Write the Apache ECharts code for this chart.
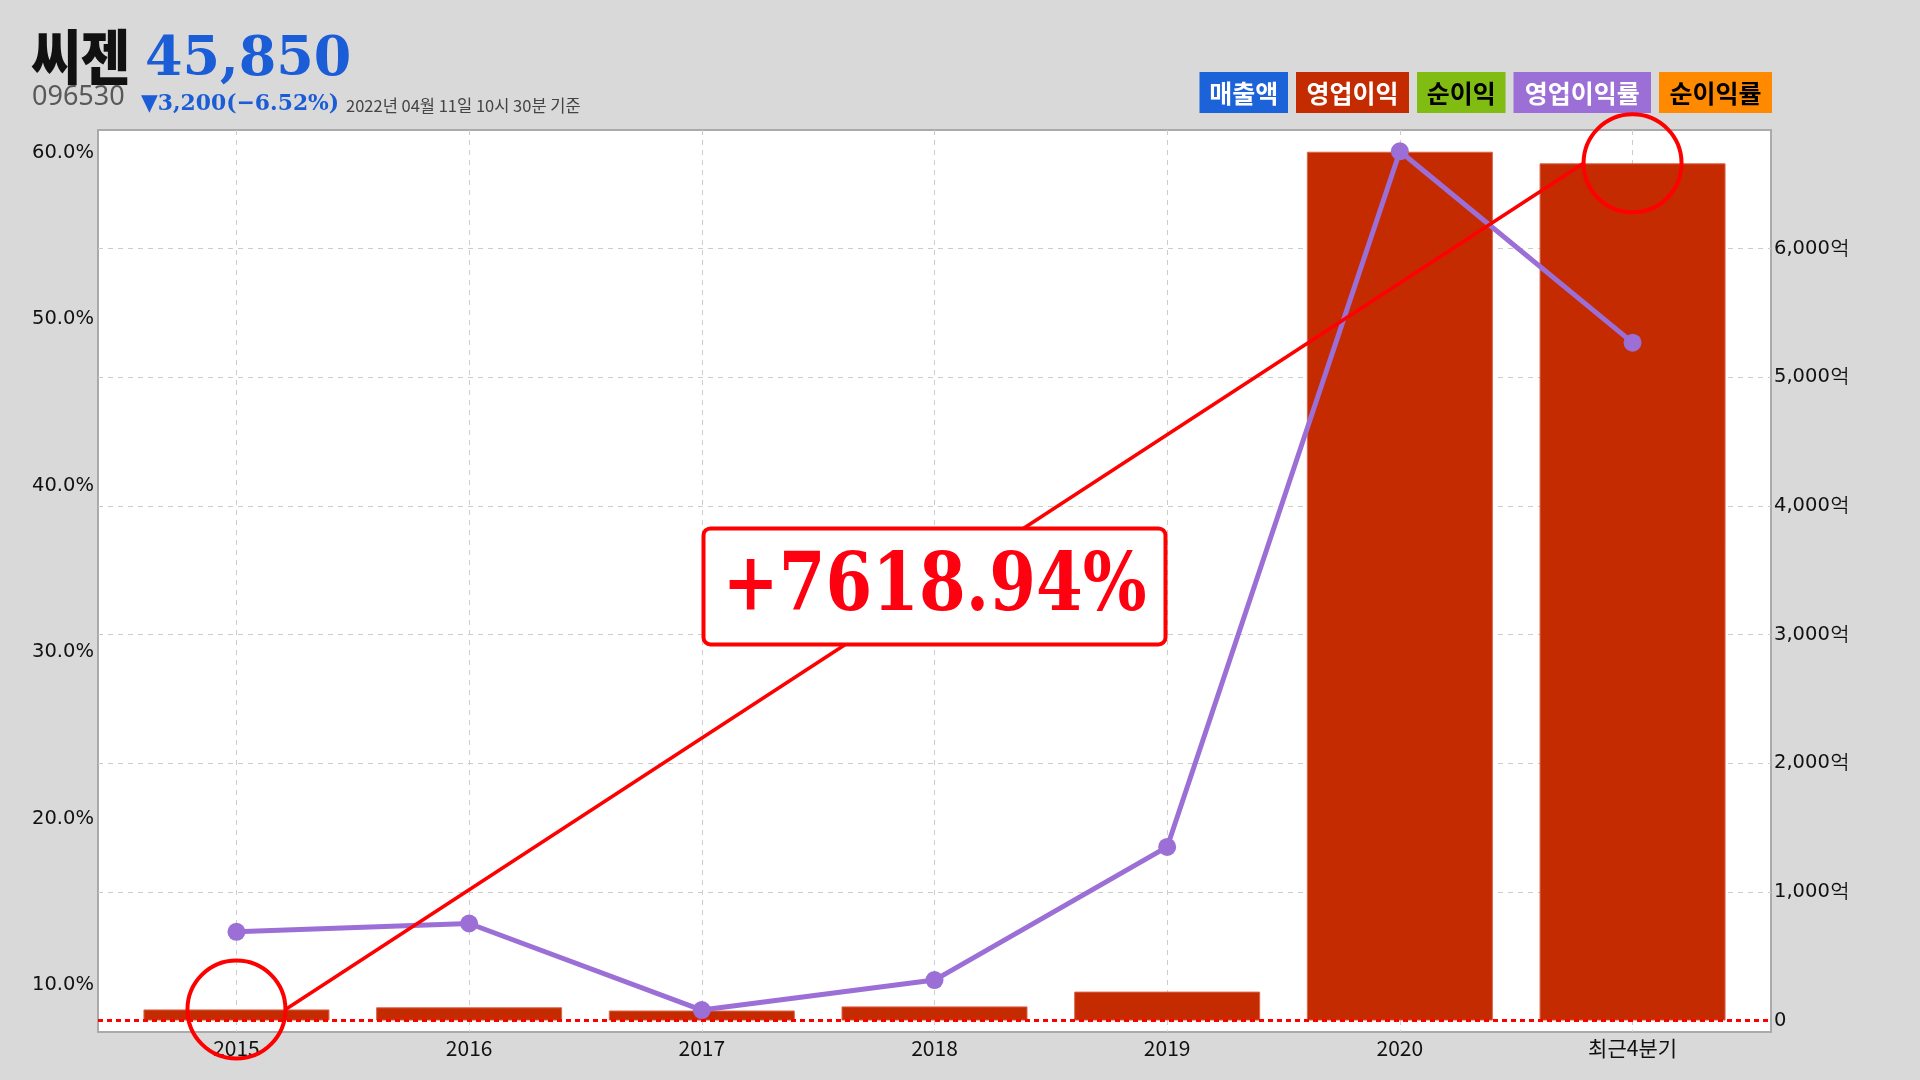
<!DOCTYPE html>
<html><head><meta charset="utf-8">
<script src="https://cdn.jsdelivr.net/npm/echarts@6/dist/echarts.min.js"></script>
<style>html,body{margin:0;padding:0;background:#d9d9d9}#c{width:1920px;height:1080px}</style>
</head><body><div id="c"></div>
<script>
// ---- data ----
const categories = ['2015', '2016', '2017', '2018', '2019', '2020', '최근4분기'];
const opProfit = [86.3, 103, 78, 110, 225, 6753, 6663];      // 영업이익 (억)
const opMargin = [13.2, 13.7, 8.5, 10.3, 18.3, 60.1, 48.6];   // 영업이익률 (%)
const leftTicks = [10, 20, 30, 40, 50, 60];
const rightTicks = [0, 1000, 2000, 3000, 4000, 5000, 6000];
const legendNames = ['매출액', '영업이익', '순이익', '영업이익률', '순이익률'];
const legendColors = ['#1c62d8', '#c42b00', '#80bc12', '#9b6fd6', '#ff8a00'];
const legendTextColors = ['#ffffff', '#ffffff', '#000000', '#ffffff', '#000000'];
const growthLabel = '+7618.94%';
const stockName = '씨젠';
const stockCode = '096530';
const stockPrice = '45,850';
const stockChange = '▼3,200(−6.52%)';
const stockTime = '2022년 04월 11일 10시 30분 기준';

// ---- chart ----
const chart = echarts.init(document.getElementById('c'));
function fmtNum(v) { return String(v).replace(/\B(?=(\d{3})+(?!\d))/g, ','); }

// legend boxes (right aligned)
const legendEls = [];
let lx = 1772;
for (let i = legendNames.length - 1; i >= 0; i--) {
  const w = legendNames[i].length * 24.5 + 15;
  lx -= w;
  legendEls.push({
    type: 'rect', x: lx, y: 72, shape: { width: w, height: 41 },
    style: { fill: legendColors[i] }, silent: true
  });
  legendEls.push({
    type: 'text', x: lx + w / 2, y: 93,
    style: { text: legendNames[i], fill: legendTextColors[i], fontSize: 25, fontWeight: 'bold',
      fontFamily: 'Noto Sans CJK KR', align: 'center', verticalAlign: 'middle' }, silent: true
  });
  lx -= 8;
}

const headerEls = [
  { type: 'text', x: 31, y: 57, scaleX: 0.9,
    style: { text: stockName, fill: '#111', fontSize: 60, fontWeight: 900, fontFamily: 'Noto Sans CJK KR',
      align: 'left', verticalAlign: 'middle' } },
  { type: 'text', x: 145, y: 61, scaleX: 0.98,
    style: { text: stockPrice, fill: '#1a5dd6', fontSize: 55, fontWeight: 'bold', fontFamily: 'DejaVu Serif',
      align: 'left', verticalAlign: 'middle' } },
  { type: 'text', x: 32, y: 97,
    style: { text: stockCode, fill: '#595959', fontSize: 27, fontFamily: 'Noto Sans',
      align: 'left', verticalAlign: 'middle' } },
  { type: 'text', x: 141, y: 104, scaleX: 0.95,
    style: { text: stockChange, fill: '#1a5dd6', fontSize: 23, fontWeight: 'bold', fontFamily: 'DejaVu Serif',
      align: 'left', verticalAlign: 'middle' } },
  { type: 'text', x: 346, y: 106,
    style: { text: stockTime, fill: '#444', fontSize: 16.5, fontFamily: 'Noto Sans CJK KR',
      align: 'left', verticalAlign: 'middle' } }
];

const first = 0, last = categories.length - 1;

chart.setOption({
  animation: false,
  backgroundColor: '#d9d9d9',
  grid: { left: 98, right: 149, top: 130, bottom: 48, show: true, backgroundColor: '#ffffff',
    borderColor: '#aaaaaa', borderWidth: 2 },
  xAxis: {
    type: 'value', min: -0.595, max: 6.595,
    axisLine: { show: false },
    axisTick: { show: false, customValues: categories.map((c, i) => i) },
    splitLine: { show: true, lineStyle: { color: '#cccccc', type: [5, 5], width: 1 } },
    axisLabel: { customValues: categories.map((c, i) => i), formatter: v => categories[Math.round(v)],
      color: '#111', fontSize: 21, fontFamily: 'Noto Sans CJK KR', margin: 6 }
  },
  yAxis: [
    { type: 'value', position: 'left', min: 7.18, max: 61.38,
      axisLine: { show: false }, axisTick: { show: false, customValues: leftTicks },
      splitLine: { show: false },
      axisLabel: { customValues: leftTicks, formatter: v => v.toFixed(1) + '%', color: '#111',
        fontSize: 19.5, fontFamily: 'DejaVu Sans', margin: 4 } },
    { type: 'value', position: 'right', min: -89, max: 6922,
      axisLine: { show: false }, axisTick: { show: false, customValues: rightTicks.slice(1) },
      splitLine: { show: true, lineStyle: { color: '#cccccc', type: [5, 5], width: 1 } },
      axisLabel: { customValues: rightTicks, formatter: v => v === 0 ? '0' : fmtNum(v) + '억', color: '#111',
        fontSize: 19.5, fontFamily: 'DejaVu Sans', margin: 3 } }
  ],
  series: [
    { name: '영업이익', type: 'bar', yAxisIndex: 1, barWidth: 186,
      data: opProfit.map((v, i) => [i, v]),
      itemStyle: { color: '#c42b00', borderColor: '#d9654a', borderWidth: 1 },
      markLine: { silent: true, symbol: 'none', label: { show: false },
        lineStyle: { color: '#ff0000', width: 3, type: [5, 4] },
        data: [{ yAxis: 0 }] },
      z: 2 },
    { name: '영업이익률', type: 'line', yAxisIndex: 0,
      data: opMargin.map((v, i) => [i, v]),
      symbol: 'circle', symbolSize: 18,
      lineStyle: { color: '#9b6fd6', width: 5 }, itemStyle: { color: '#9b6fd6' }, z: 3 },
    { type: 'custom', yAxisIndex: 1, clip: false, z: 5,
      data: [[first, opProfit[first], last, opProfit[last]]],
      encode: { x: [0, 2], y: [1, 3] },
      renderItem: function (params, api) {
        const p0 = api.coord([api.value(0), api.value(1)]);
        const p1 = api.coord([api.value(2), api.value(3)]);
        const r = 49;
        const a = [p0[0] + r, p0[1]], b = [p1[0] - r, p1[1]];
        const mx = (a[0] + b[0]) / 2, my = (a[1] + b[1]) / 2;
        const bw = 462, bh = 116;
        return { type: 'group', children: [
          { type: 'circle', shape: { cx: p0[0], cy: p0[1], r: r }, style: { fill: 'none', stroke: '#ff0000', lineWidth: 4 } },
          { type: 'circle', shape: { cx: p1[0], cy: p1[1], r: r }, style: { fill: 'none', stroke: '#ff0000', lineWidth: 4 } },
          { type: 'line', shape: { x1: a[0], y1: a[1], x2: b[0], y2: b[1] }, style: { stroke: '#ff0000', lineWidth: 3.5 } },
          { type: 'rect', shape: { x: mx - bw / 2, y: my - bh / 2, width: bw, height: bh, r: 7 },
            style: { fill: '#ffffff', stroke: '#ff0000', lineWidth: 4 } },
          { type: 'text', x: mx, y: my + 3, scaleX: 0.84,
            style: { text: growthLabel, fill: '#ff0010', fontSize: 80, fontWeight: 'bold', fontFamily: 'DejaVu Serif',
              align: 'center', verticalAlign: 'middle' } }
        ] };
      } }
  ],
  graphic: headerEls.concat(legendEls)
});
</script></body></html>
